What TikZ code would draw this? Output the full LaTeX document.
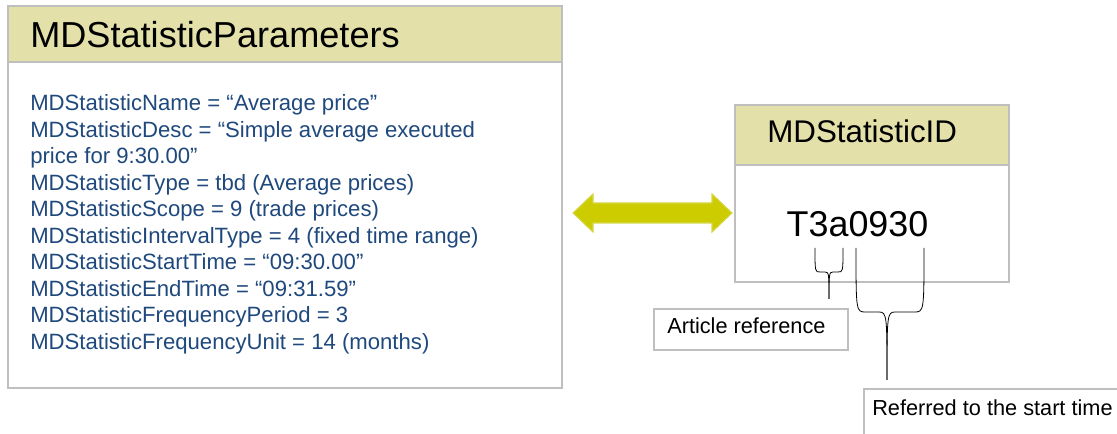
\documentclass[tikz,border=0pt]{standalone}
\usepackage{fontspec}
\setmainfont{Liberation Sans}
\definecolor{hdr}{HTML}{E3E1A9}
\definecolor{bord}{HTML}{BFBFBF}
\definecolor{bluetxt}{HTML}{1F497D}
\definecolor{arrfill}{HTML}{CCCC00}
\definecolor{arrline}{HTML}{D6D64A}
\begin{document}
\begin{tikzpicture}[x=0.75pt,y=-0.75pt,
  boxline/.style={draw=bord,line width=1.2pt},
  hdrbox/.style={boxline,fill=hdr},
  brace/.style={draw=black,line width=0.6pt},
  body/.style={anchor=base west,inner sep=0pt,text=bluetxt,font=\fontsize{16.6pt}{20pt}\selectfont},
  lbl/.style={anchor=base west,inner sep=0pt,font=\fontsize{16.3pt}{20pt}\selectfont}]
\useasboundingbox (0,0) rectangle (1117,434);
% left box
\path[boxline,fill=white] (8,62) rectangle (562,388);
\path[hdrbox] (8,6) rectangle (562,62);
\node[anchor=base west,inner sep=0pt,font=\fontsize{27.1pt}{32pt}\selectfont] (ptitle) at (30,48) {MDStatisticParameters};
\node[body] (l1) at (30,111) {MDStatisticName = “Average price”};
\node[body] (l2) at (30,138) {MDStatisticDesc = “Simple average executed};
\node[body] (l3) at (30,164) {price for 9:30.00”};
\node[body] (l4) at (30,191) {MDStatisticType = tbd (Average prices)};
\node[body] (l5) at (30,217) {MDStatisticScope = 9 (trade prices)};
\node[body] (l6) at (30,244) {MDStatisticIntervalType = 4 (fixed time range)};
\node[body] (l7) at (30,270) {MDStatisticStartTime = “09:30.00”};
\node[body] (l8) at (30,297) {MDStatisticEndTime = “09:31.59”};
\node[body] (l9) at (30,323) {MDStatisticFrequencyPeriod = 3};
\node[body] (l10) at (30,350) {MDStatisticFrequencyUnit = 14 (months)};
% right box
\path[boxline,fill=white] (735,165) rectangle (1009,282);
\path[hdrbox] (735,105) rectangle (1009,165);
\node[anchor=base west,inner sep=0pt,font=\fontsize{23.5pt}{28pt}\selectfont] (idtitle) at (767,143) {MDStatisticID};
\node[anchor=base,inner sep=0pt,font=\fontsize{26.9pt}{32pt}\selectfont] (idval) at (857.5,237) {T3a0930};
% double arrow
\path[fill=arrfill,draw=arrline,line width=0.8pt]
  (573,213) -- (593,194) -- (593,203) -- (712,203) -- (712,194) -- (732,213)
  -- (712,232) -- (712,223) -- (593,223) -- (593,232) -- cycle;
% label boxes
\node[boxline,anchor=north west,minimum width=194*0.75pt,minimum height=41*0.75pt,inner sep=0pt] (artbox) at (653,308) {};
\node[lbl] (arttxt) at (667,334) {Article reference};
\node[boxline,anchor=north west,minimum width=270*0.75pt,minimum height=60*0.75pt,inner sep=0pt] (refbox) at (863,388) {};
\node[lbl] (reftxt) at (872,416) {Referred to the start time};
% braces
\coordinate (b1tip) at (829,299);
\coordinate (b2tip) at (887,380);
\path[brace] (815,248) .. controls (815,272) and (815,272) .. (820,272) -- (825,272)
  .. controls (829,272) and (829,274) .. (b1tip);
\path[brace] (843,248) .. controls (843,272) and (843,272) .. (838,272) -- (833,272)
  .. controls (829,272) and (829,274) .. (b1tip);
\path[brace] (856,248) .. controls (856,312) and (856,312) .. (866,312) -- (879,312)
  .. controls (887,312) and (887,316) .. (b2tip);
\path[brace] (924,248) .. controls (924,312) and (924,312) .. (914,312) -- (895,312)
  .. controls (887,312) and (887,316) .. (b2tip);
\end{tikzpicture}
\end{document}
